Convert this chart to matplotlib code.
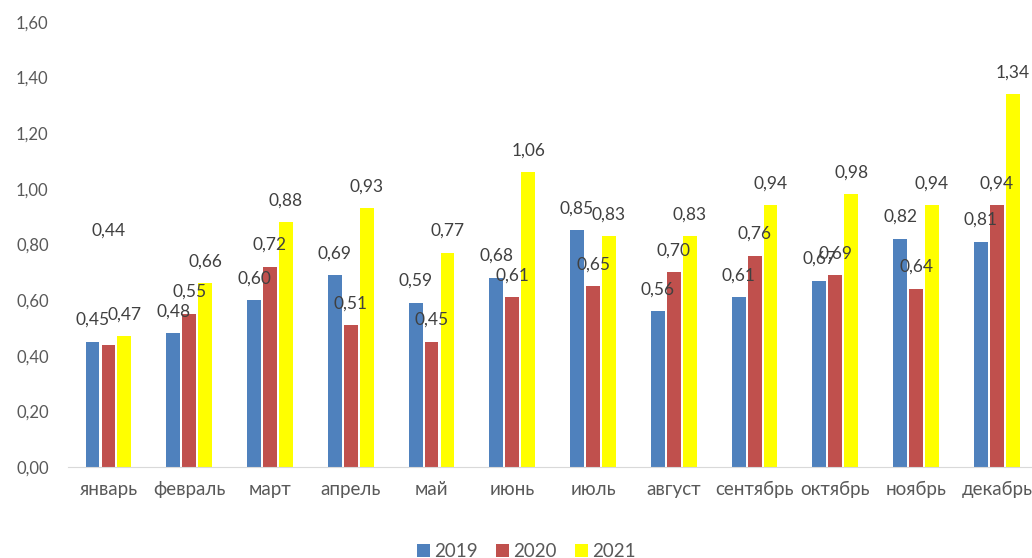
import numpy as np
import matplotlib
matplotlib.use("Agg")
import matplotlib.pyplot as plt

months = ["январь", "февраль", "март", "апрель", "май", "июнь",
          "июль", "август", "сентябрь", "октябрь", "ноябрь", "декабрь"]
years = ["2019", "2020", "2021"]
v2019 = [0.45, 0.48, 0.60, 0.69, 0.59, 0.68, 0.85, 0.56, 0.61, 0.67, 0.82, 0.81]
v2020 = [0.44, 0.55, 0.72, 0.51, 0.45, 0.61, 0.65, 0.70, 0.76, 0.69, 0.64, 0.94]
v2021 = [0.47, 0.66, 0.88, 0.93, 0.77, 1.06, 0.83, 0.83, 0.94, 0.98, 0.94, 1.34]
yticks = [0.0, 0.2, 0.4, 0.6, 0.8, 1.0, 1.2, 1.4, 1.6]

colors = ["#4F81BD", "#C0504D", "#FFFF00"]
# extra lift (points) for a label that sits away from its bar
lift = {(1, 0): 66}

plt.rcParams['font.family'] = ['Lato', 'DejaVu Sans']

fig = plt.figure(figsize=(10.32, 5.58), dpi=100)
ax = fig.add_axes([0.066, 0.163, 0.939, 0.798])

x = np.arange(len(months))
w = 0.173
step = 0.198
for i, (vals, col, yr) in enumerate(zip([v2019, v2020, v2021], colors, years)):
    bars = ax.bar(x + (i - 1) * step, vals, width=w, color=col, label=yr)
    for j, b in enumerate(bars):
        ax.annotate(f"{vals[j]:.2f}".replace(".", ","),
                    (b.get_x() + b.get_width() / 2, b.get_height()),
                    xytext=(0, 10 + lift.get((i, j), 0)), textcoords="offset points",
                    ha="center", va="bottom", fontsize=12.5, color="#404040")

ax.set_xlim(-0.5, len(months) - 0.5)
ax.set_ylim(0, 1.6)
ax.set_yticks(yticks)
ax.set_yticklabels([f"{t:.2f}".replace(".", ",") for t in yticks])
ax.set_xticks(x)
ax.set_xticklabels(months)
ax.tick_params(axis="y", length=0, pad=14, labelsize=12, labelcolor="#595959")
ax.tick_params(axis="x", length=0, pad=10, labelsize=13.5, labelcolor="#595959")
for s in ["top", "right", "left"]:
    ax.spines[s].set_visible(False)
ax.spines["bottom"].set_color("#D9D9D9")

fig.legend(loc="center", bbox_to_anchor=(0.51, 0.012), ncol=3, frameon=False,
           fontsize=13.5, handlelength=0.7, handleheight=0.7, handletextpad=0.2,
           columnspacing=1.0, labelcolor="#595959")

fig.savefig("out.png", dpi=100)
